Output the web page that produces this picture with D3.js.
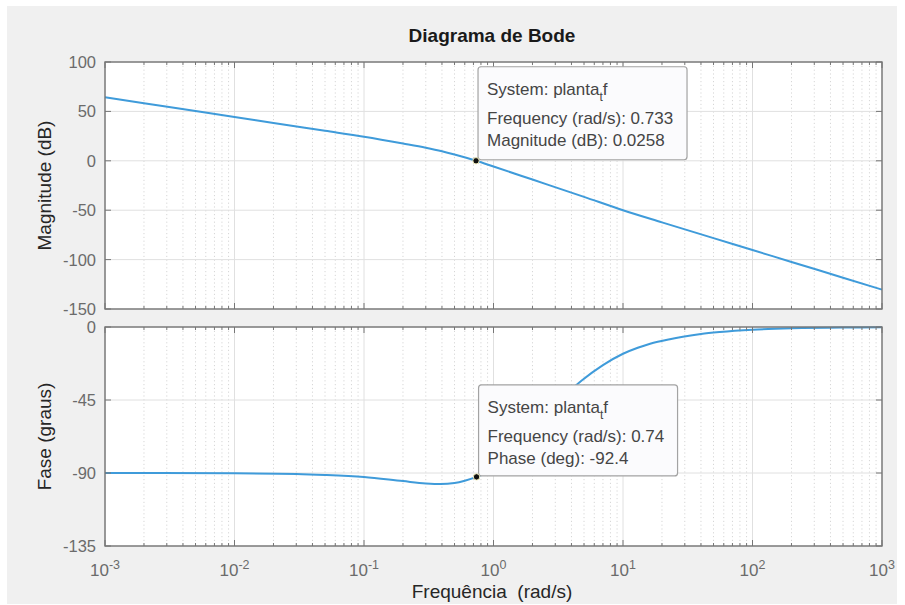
<!DOCTYPE html>
<html>
<head>
<meta charset="utf-8">
<script src="https://cdn.jsdelivr.net/npm/d3@7"></script>
<style>
  html, body { margin: 0; padding: 0; background: #ffffff; }
  svg { display: block; font-family: "Liberation Sans", Arial, sans-serif; }
</style>
</head>
<body>
<svg id="chart" width="905" height="605"></svg>
<script>
// ---------- DATA ----------
const chartTitle = "Diagrama de Bode";
const xLabel = "Frequência  (rad/s)";
const magLabel = "Magnitude (dB)";
const phaseLabel = "Fase (graus)";

const magFreq = [0.001, 0.002, 0.005, 0.01, 0.02, 0.05, 0.1, 0.2, 0.3, 0.4, 0.5, 0.733, 1, 2, 5, 10, 20, 50, 100, 200, 500, 1000];
const magDB   = [64.3, 58.3, 50.3, 44.4, 38.3, 30.4, 24.4, 17.5, 13.2, 9.6, 6.3, 0.03, -5.8, -19.0, -36.5, -50.0, -62.3, -78.3, -90.3, -102.4, -118.3, -130.4];

const phaseFreq = [0.001, 0.01, 0.03, 0.05, 0.1, 0.2, 0.3, 0.39, 0.5, 0.6, 0.74, 1, 2, 3, 4.8, 7, 10, 13, 16.2, 23, 29, 40, 56, 100, 200, 500, 1000];
const phaseDeg  = [-90.0, -90.2, -90.6, -91.2, -92.5, -95.0, -96.4, -96.8, -96.2, -94.8, -92.4, -88, -65, -48, -33, -23.5, -16.5, -12.8, -10.3, -7.5, -6.0, -4.3, -3.1, -1.7, -0.8, -0.3, -0.2];

const xTickExps = [-3, -2, -1, 0, 1, 2, 3];
const magTicks = [100, 50, 0, -50, -100, -150];
const phaseTicks = [0, -45, -90, -135];

const tipMag = { system: "planta", sub: "t", sys2: "f", freq: 0.733, value: 0.0258, freqText: "0.733", valText: "0.0258", label: "Magnitude (dB)" };
const tipPhase = { system: "planta", sub: "t", sys2: "f", freq: 0.74, value: -92.4, freqText: "0.74", valText: "-92.4", label: "Phase (deg)" };

// ---------- LAYOUT ----------
const svg = d3.select("#chart");
const left = 105, right = 882;
const magTop = 62, magBottom = 309;
const phTop = 327, phBottom = 546;
const axisColor = "#767676";
const tickTextColor = "#6b6b6b";
const lineColor = "#3f9bda";

svg.append("rect").attr("x", 7).attr("y", 6).attr("width", 890).attr("height", 598).attr("fill", "#f0f0f0");

const x = d3.scaleLog().domain([1e-3, 1e3]).range([left, right]);
const yMag = d3.scaleLinear().domain([-150, 100]).range([magBottom, magTop]);
const yPh = d3.scaleLinear().domain([-135, 0]).range([phBottom, phTop]);

const majorX = xTickExps.map(e => Math.pow(10, e));
const minorX = [];
for (let e = -3; e < 3; e++) for (let k = 2; k <= 9; k++) minorX.push(k * Math.pow(10, e));

function panel(y, yTicks, top, bottom) {
  const g = svg.append("g");
  g.append("rect").attr("x", left).attr("y", top).attr("width", right - left).attr("height", bottom - top).attr("fill", "#ffffff");
  g.selectAll(".mg").data(minorX).enter().append("line")
    .attr("x1", d => x(d)).attr("x2", d => x(d)).attr("y1", top).attr("y2", bottom)
    .attr("stroke", "#d6d6d6").attr("stroke-width", 1).attr("stroke-dasharray", "1.2 2.6");
  g.selectAll(".Mg").data(majorX).enter().append("line")
    .attr("x1", d => x(d)).attr("x2", d => x(d)).attr("y1", top).attr("y2", bottom)
    .attr("stroke", "#e0e0e0").attr("stroke-width", 1);
  g.selectAll(".Yg").data(yTicks).enter().append("line")
    .attr("x1", left).attr("x2", right).attr("y1", d => y(d)).attr("y2", d => y(d))
    .attr("stroke", "#e0e0e0").attr("stroke-width", 1);
  return g;
}

function frame(g, y, yTicks, top, bottom) {
  const t = g.append("g").attr("stroke", axisColor).attr("stroke-width", 1);
  majorX.forEach(v => {
    t.append("line").attr("x1", x(v)).attr("x2", x(v)).attr("y1", bottom).attr("y2", bottom - 6);
    t.append("line").attr("x1", x(v)).attr("x2", x(v)).attr("y1", top).attr("y2", top + 6);
  });
  minorX.forEach(v => {
    t.append("line").attr("x1", x(v)).attr("x2", x(v)).attr("y1", bottom).attr("y2", bottom - 3);
    t.append("line").attr("x1", x(v)).attr("x2", x(v)).attr("y1", top).attr("y2", top + 3);
  });
  yTicks.forEach(v => {
    t.append("line").attr("x1", left).attr("x2", left + 6).attr("y1", y(v)).attr("y2", y(v));
    t.append("line").attr("x1", right).attr("x2", right - 6).attr("y1", y(v)).attr("y2", y(v));
  });
  g.append("rect").attr("x", left).attr("y", top).attr("width", right - left).attr("height", bottom - top)
    .attr("fill", "none").attr("stroke", axisColor).attr("stroke-width", 1.4);
  g.selectAll(".yl").data(yTicks).enter().append("text")
    .attr("x", left - 9).attr("y", d => y(d)).attr("dy", "0.36em")
    .attr("text-anchor", "end").attr("font-size", "16.5px").attr("fill", tickTextColor)
    .text(d => d);
}

const gMag = panel(yMag, magTicks, magTop, magBottom);
const gPh = panel(yPh, phaseTicks, phTop, phBottom);

const magLine = d3.line().x((d, i) => x(magFreq[i])).y(d => yMag(d)).curve(d3.curveMonotoneX);
const phLine = d3.line().x((d, i) => x(phaseFreq[i])).y(d => yPh(d)).curve(d3.curveMonotoneX);

gMag.append("path").attr("d", magLine(magDB)).attr("fill", "none").attr("stroke", lineColor).attr("stroke-width", 2);
gPh.append("path").attr("d", phLine(phaseDeg)).attr("fill", "none").attr("stroke", lineColor).attr("stroke-width", 2);

frame(gMag, yMag, magTicks, magTop, magBottom);
frame(gPh, yPh, phaseTicks, phTop, phBottom);

const xl = svg.append("g");
xTickExps.forEach(e => {
  const t = xl.append("text").attr("x", x(Math.pow(10, e))).attr("y", 576)
    .attr("text-anchor", "middle").attr("fill", tickTextColor).attr("font-size", "17px");
  t.append("tspan").text("10");
  t.append("tspan").attr("dy", -7).attr("font-size", "12.5px").text(String(e));
});

svg.append("text").attr("x", 492).attr("y", 42).attr("text-anchor", "middle")
  .attr("font-size", "19px").attr("font-weight", "bold").attr("fill", "#1a1a1a").text(chartTitle);
svg.append("text").attr("x", 492).attr("y", 598).attr("text-anchor", "middle")
  .attr("font-size", "19px").attr("fill", "#262626").style("white-space", "pre").text(xLabel);
svg.append("text").attr("transform", `translate(51,${(magTop + magBottom) / 2}) rotate(-90)`)
  .attr("text-anchor", "middle").attr("font-size", "19px").attr("fill", "#262626").text(magLabel);
svg.append("text").attr("transform", `translate(51,${(phTop + phBottom) / 2}) rotate(-90)`)
  .attr("text-anchor", "middle").attr("font-size", "19px").attr("fill", "#262626").text(phaseLabel);

function dataTip(px, py, w, h, tip) {
  const g = svg.append("g");
  const bx = px + 2, by = py - h - 1;
  g.append("rect").attr("x", bx).attr("y", by).attr("width", w).attr("height", h)
    .attr("rx", 3).attr("fill", "#fbfbfd").attr("stroke", "#a3a3a3").attr("stroke-width", 1.2);
  const tx = bx + 9;
  const t1 = g.append("text").attr("x", tx).attr("y", by + 28).attr("font-size", "17px").attr("fill", "#454545");
  t1.append("tspan").text("System: " + tip.system);
  t1.append("tspan").attr("dy", 6).attr("font-size", "12px").text(tip.sub);
  t1.append("tspan").attr("dy", -6).text(tip.sys2);
  g.append("text").attr("x", tx).attr("y", by + 57).attr("font-size", "17px").attr("fill", "#454545")
    .text("Frequency (rad/s): " + tip.freqText);
  g.append("text").attr("x", tx).attr("y", by + 79).attr("font-size", "17px").attr("fill", "#454545")
    .text(tip.label + ": " + tip.valText);
  g.append("circle").attr("cx", px).attr("cy", py).attr("r", 3.2)
    .attr("fill", "#111").attr("stroke", "#f4f0c0").attr("stroke-width", 1);
}
dataTip(x(tipMag.freq), yMag(tipMag.value), 209, 93, tipMag);
dataTip(x(tipPhase.freq), yPh(tipPhase.value), 199, 91, tipPhase);
</script>
</body>
</html>
